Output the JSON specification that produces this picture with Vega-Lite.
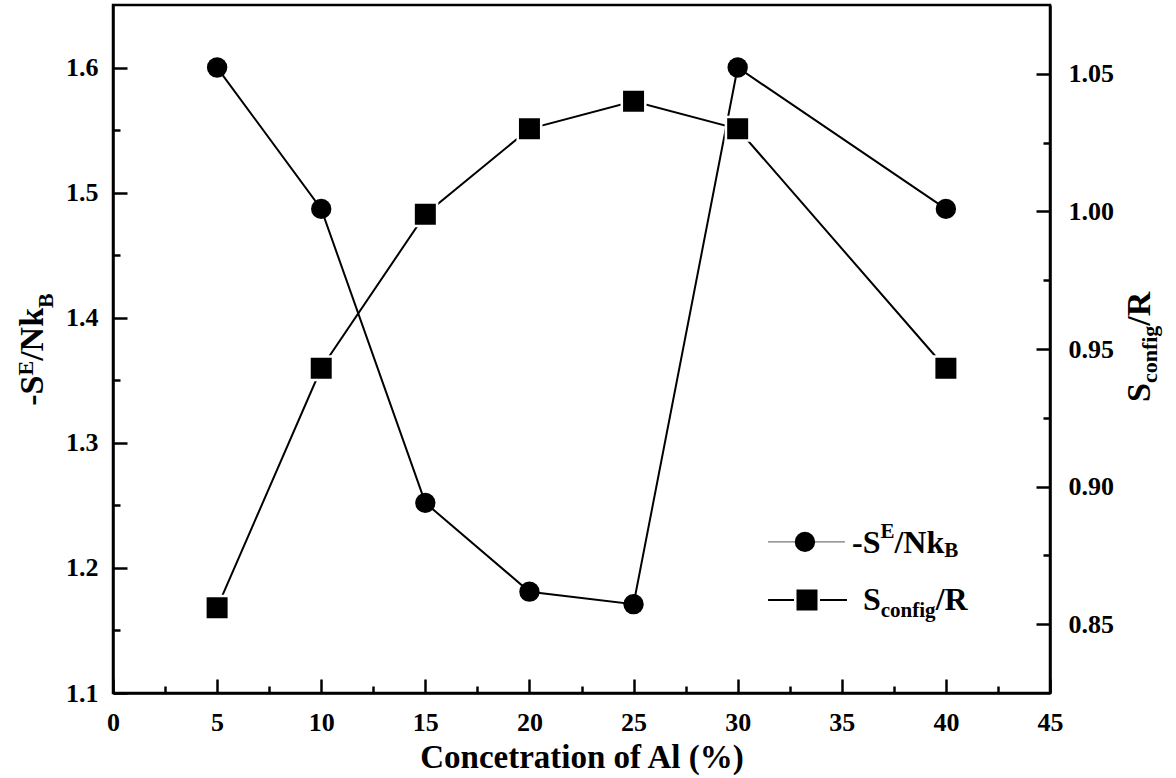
{
  "$schema": "https://vega.github.io/schema/vega-lite/v6.json",
  "width": 937,
  "height": 688,
  "autosize": "none",
  "padding": {"left": 113, "top": 5, "right": 126, "bottom": 85},
  "background": "white",
  "config": {
    "view": {"stroke": "black", "strokeWidth": 2.5},
    "font": "Liberation Serif",
    "text": {"font": "Liberation Serif", "fontWeight": "bold", "color": "black"}
  },
  "datasets": {
    "se": [
      {"conc": 5, "val": 1.6},
      {"conc": 10, "val": 1.487},
      {"conc": 15, "val": 1.252},
      {"conc": 20, "val": 1.181},
      {"conc": 25, "val": 1.171},
      {"conc": 30, "val": 1.6},
      {"conc": 40, "val": 1.487}
    ],
    "sc": [
      {"conc": 5, "val": 0.856},
      {"conc": 10, "val": 0.943},
      {"conc": 15, "val": 0.999},
      {"conc": 20, "val": 1.03},
      {"conc": 25, "val": 1.04},
      {"conc": 30, "val": 1.03},
      {"conc": 40, "val": 0.943}
    ],
    "one": [{"k": 1}]
  },
  "layer": [
    {
      "layer": [
        {
          "data": {"name": "se"},
          "mark": {"type": "line", "color": "black", "strokeWidth": 2},
          "encoding": {
            "x": {
              "field": "conc", "type": "quantitative",
              "scale": {"domain": [0, 45], "nice": false, "zero": false},
              "axis": {
                "values": [0, 2.5, 5, 7.5, 10, 12.5, 15, 17.5, 20, 22.5, 25, 27.5, 30, 32.5, 35, 37.5, 40, 42.5, 45],
                "labelExpr": "datum.value % 5 === 0 ? datum.label : ''",
                "format": "d",
                "grid": false,
                "tickSize": -14,
                "tickWidth": 2.5,
                "tickColor": "black",
                "tickDash": {"condition": {"test": "datum.value % 5 !== 0", "value": [7, 40]}, "value": [40, 0]},
                "domainColor": "black",
                "domainWidth": 2.5,
                "labelFont": "Liberation Serif",
                "labelFontSize": 26,
                "labelFontWeight": "bold",
                "labelColor": "black",
                "labelPadding": 30.7,
                "labelFlush": false,
                "labelOverlap": false,
                "labelBound": false,
                "title": "Concetration of Al (%)",
                "titleFont": "Liberation Serif",
                "titleFontSize": 33,
                "titleFontWeight": "bold",
                "titleColor": "black",
                "titlePadding": 6
              }
            },
            "y": {
              "field": "val", "type": "quantitative",
              "scale": {"domain": [1.1, 1.65], "nice": false, "zero": false},
              "axis": {
                "orient": "left",
                "values": [1.1, 1.15, 1.2, 1.25, 1.3, 1.35, 1.4, 1.45, 1.5, 1.55, 1.6],
                "format": ".1f",
                "labelExpr": "abs(round(datum.value * 20)) % 2 === 0 ? datum.label : ''",
                "grid": false,
                "tickSize": -14,
                "tickWidth": 2.5,
                "tickColor": "black",
                "tickDash": {"condition": {"test": "abs(round(datum.value * 20)) % 2 !== 0", "value": [7, 40]}, "value": [40, 0]},
                "domainColor": "black",
                "domainWidth": 2.5,
                "labelFont": "Liberation Serif",
                "labelFontSize": 26,
                "labelFontWeight": "bold",
                "labelColor": "black",
                "labelPadding": 29,
                "labelFlush": false,
                "labelOverlap": false,
                "labelBound": false,
                "title": null
              }
            }
          }
        },
        {
          "data": {"name": "se"},
          "mark": {"type": "point", "shape": "circle", "filled": true, "size": 415, "color": "black", "opacity": 1},
          "encoding": {
            "x": {"field": "conc", "type": "quantitative"},
            "y": {"field": "val", "type": "quantitative"}
          }
        },
        {
          "data": {"name": "one"},
          "mark": {"type": "rule", "color": "#777777", "strokeWidth": 1.2},
          "encoding": {
            "x": {"datum": 31.46, "type": "quantitative"},
            "x2": {"datum": 35.15},
            "y": {"datum": 1.2208, "type": "quantitative"}
          }
        },
        {
          "data": {"name": "one"},
          "mark": {"type": "point", "shape": "circle", "filled": true, "size": 415, "color": "black", "opacity": 1},
          "encoding": {
            "x": {"datum": 33.23, "type": "quantitative"},
            "y": {"datum": 1.2208, "type": "quantitative"}
          }
        },
        {
          "data": {"name": "one"},
          "mark": {"type": "rule", "color": "black", "strokeWidth": 2},
          "encoding": {
            "x": {"datum": 31.46, "type": "quantitative"},
            "x2": {"datum": 35.25},
            "y": {"datum": 1.1744, "type": "quantitative"}
          }
        },
        {
          "data": {"name": "one"},
          "mark": {"type": "point", "shape": "square", "filled": true, "size": 552, "fill": "black", "stroke": "white", "strokeWidth": 2.5, "opacity": 1},
          "encoding": {
            "x": {"datum": 33.33, "type": "quantitative"},
            "y": {"datum": 1.1744, "type": "quantitative"}
          }
        },
        {
          "data": {"name": "one"},
          "mark": {"type": "text", "text": "-S", "fontSize": 32, "align": "left", "baseline": "alphabetic"},
          "encoding": {
            "x": {"datum": 35.49, "type": "quantitative"},
            "y": {"datum": 1.212, "type": "quantitative"}
          }
        },
        {
          "data": {"name": "one"},
          "mark": {"type": "text", "text": "E", "fontSize": 21, "align": "left", "baseline": "alphabetic"},
          "encoding": {
            "x": {"datum": 36.86, "type": "quantitative"},
            "y": {"datum": 1.224, "type": "quantitative"}
          }
        },
        {
          "data": {"name": "one"},
          "mark": {"type": "text", "text": "/Nk", "fontSize": 32, "align": "left", "baseline": "alphabetic"},
          "encoding": {
            "x": {"datum": 37.53, "type": "quantitative"},
            "y": {"datum": 1.212, "type": "quantitative"}
          }
        },
        {
          "data": {"name": "one"},
          "mark": {"type": "text", "text": "B", "fontSize": 21, "align": "left", "baseline": "alphabetic"},
          "encoding": {
            "x": {"datum": 39.92, "type": "quantitative"},
            "y": {"datum": 1.2088, "type": "quantitative"}
          }
        },
        {
          "data": {"name": "one"},
          "mark": {"type": "text", "text": "S", "fontSize": 32, "align": "left", "baseline": "alphabetic"},
          "encoding": {
            "x": {"datum": 36.02, "type": "quantitative"},
            "y": {"datum": 1.1664, "type": "quantitative"}
          }
        },
        {
          "data": {"name": "one"},
          "mark": {"type": "text", "text": "config", "fontSize": 21, "align": "left", "baseline": "alphabetic"},
          "encoding": {
            "x": {"datum": 36.87, "type": "quantitative"},
            "y": {"datum": 1.1608, "type": "quantitative"}
          }
        },
        {
          "data": {"name": "one"},
          "mark": {"type": "text", "text": "/R", "fontSize": 32, "align": "left", "baseline": "alphabetic"},
          "encoding": {
            "x": {"datum": 39.51, "type": "quantitative"},
            "y": {"datum": 1.1664, "type": "quantitative"}
          }
        },
        {
          "data": {"name": "one"},
          "mark": {"type": "text", "text": "-S", "fontSize": 34, "angle": 270, "align": "left", "baseline": "alphabetic"},
          "encoding": {
            "x": {"datum": -3.362, "type": "quantitative"},
            "y": {"datum": 1.3296, "type": "quantitative"}
          }
        },
        {
          "data": {"name": "one"},
          "mark": {"type": "text", "text": "E", "fontSize": 22, "angle": 270, "align": "left", "baseline": "alphabetic"},
          "encoding": {
            "x": {"datum": -3.842, "type": "quantitative"},
            "y": {"datum": 1.35376, "type": "quantitative"}
          }
        },
        {
          "data": {"name": "one"},
          "mark": {"type": "text", "text": "/Nk", "fontSize": 34, "angle": 270, "align": "left", "baseline": "alphabetic"},
          "encoding": {
            "x": {"datum": -3.362, "type": "quantitative"},
            "y": {"datum": 1.36552, "type": "quantitative"}
          }
        },
        {
          "data": {"name": "one"},
          "mark": {"type": "text", "text": "B", "fontSize": 22, "angle": 270, "align": "left", "baseline": "alphabetic"},
          "encoding": {
            "x": {"datum": -2.882, "type": "quantitative"},
            "y": {"datum": 1.40784, "type": "quantitative"}
          }
        }
      ]
    },
    {
      "layer": [
        {
          "data": {"name": "sc"},
          "mark": {"type": "line", "color": "black", "strokeWidth": 2},
          "encoding": {
            "x": {"field": "conc", "type": "quantitative"},
            "y": {
              "field": "val", "type": "quantitative",
              "scale": {"domain": [0.825, 1.075], "nice": false, "zero": false},
              "axis": {
                "orient": "right",
                "values": [0.85, 0.875, 0.9, 0.925, 0.95, 0.975, 1.0, 1.025, 1.05],
                "format": ".2f",
                "labelExpr": "abs(round(datum.value * 40)) % 2 === 0 ? datum.label : ''",
                "grid": false,
                "tickSize": -14,
                "tickWidth": 2.5,
                "tickColor": "black",
                "tickDash": {"condition": {"test": "abs(round(datum.value * 40)) % 2 !== 0", "value": [7, 40]}, "value": [40, 0]},
                "domainColor": "black",
                "domainWidth": 2.5,
                "labelFont": "Liberation Serif",
                "labelFontSize": 26,
                "labelFontWeight": "bold",
                "labelColor": "black",
                "labelPadding": 32,
                "labelFlush": false,
                "labelOverlap": false,
                "labelBound": false,
                "title": null
              }
            }
          }
        },
        {
          "data": {"name": "sc"},
          "mark": {"type": "point", "shape": "square", "filled": true, "size": 552, "fill": "black", "stroke": "white", "strokeWidth": 2.5, "opacity": 1},
          "encoding": {
            "x": {"field": "conc", "type": "quantitative"},
            "y": {"field": "val", "type": "quantitative"}
          }
        },
        {
          "data": {"name": "one"},
          "mark": {"type": "text", "text": "S", "fontSize": 34, "angle": 270, "align": "left", "baseline": "alphabetic"},
          "encoding": {
            "x": {"datum": 49.8, "type": "quantitative"},
            "y": {"datum": 0.93074, "type": "quantitative"}
          }
        },
        {
          "data": {"name": "one"},
          "mark": {"type": "text", "text": "config", "fontSize": 22, "angle": 270, "align": "left", "baseline": "alphabetic"},
          "encoding": {
            "x": {"datum": 50.14, "type": "quantitative"},
            "y": {"datum": 0.93761, "type": "quantitative"}
          }
        },
        {
          "data": {"name": "one"},
          "mark": {"type": "text", "text": "/R", "fontSize": 34, "angle": 270, "align": "left", "baseline": "alphabetic"},
          "encoding": {
            "x": {"datum": 49.8, "type": "quantitative"},
            "y": {"datum": 0.95847, "type": "quantitative"}
          }
        }
      ]
    }
  ],
  "resolve": {"scale": {"y": "independent"}}
}
